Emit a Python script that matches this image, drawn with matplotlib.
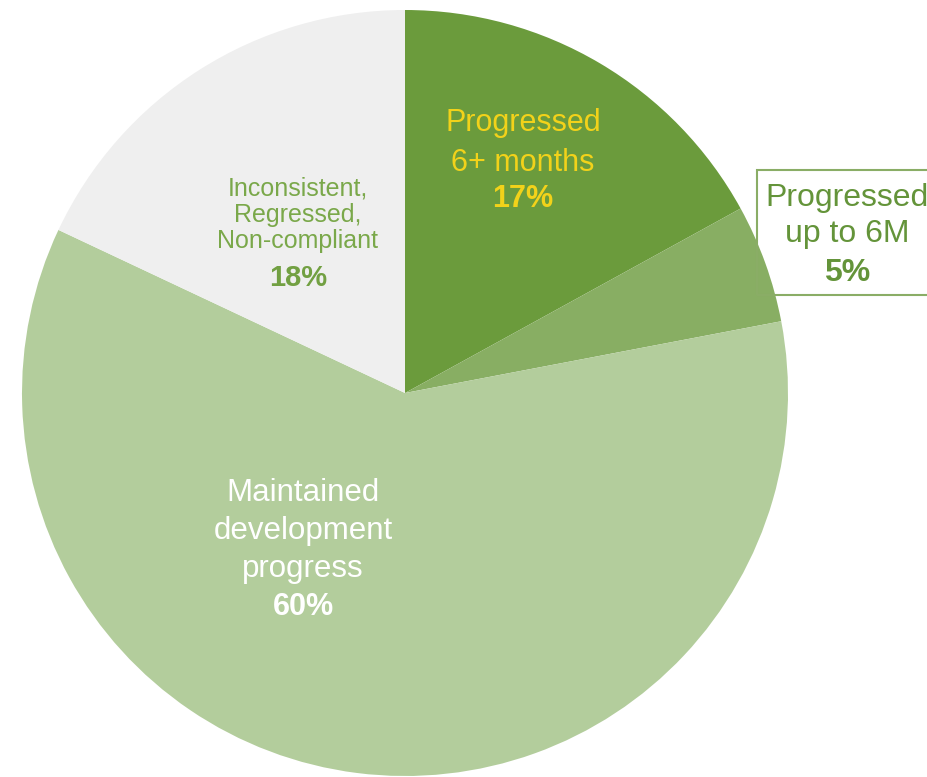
import matplotlib.pyplot as plt
from matplotlib.patches import Rectangle

labels = ['Progressed\n6+ months', 'Progressed\nup to 6M',
          'Maintained\ndevelopment\nprogress', 'Inconsistent,\nRegressed,\nNon-compliant']
shares = [17, 5, 60, 18]
colors = ['#6b9b3c', '#88ae63', '#b3cd9c', '#efefef']

plt.rcParams['font.family'] = ['Liberation Sans', 'DejaVu Sans']

fig = plt.figure(figsize=(9.27, 7.77), dpi=100)
ax = fig.add_axes([0, 0, 1, 1])

ax.pie(shares, colors=colors, startangle=90, counterclock=False,
       center=(405, 384), radius=383, frame=True,
       wedgeprops={'linewidth': 0})
ax.set_xlim(0, 927)
ax.set_ylim(0, 777)
ax.axis('off')

# labels (pixel layout, y measured from the top)
def put(x, y, s, size, color, weight='normal', ls=1.2):
    return ax.text(x, 777 - y, s, ha='center', va='center', fontsize=size,
                   color=color, fontweight=weight, linespacing=ls)

yellow = '#f2d21a'
put(523, 143, labels[0], 22, yellow, ls=1.45)
put(523, 199, f'{shares[0]}%', 22, yellow, weight='bold')

# boxed call-out, running off the right edge
ax.add_patch(Rectangle((757, 777 - 295), 200, 125, fc='none', ec='#8aad66',
                       lw=1.5, clip_on=True))
put(847, 216, labels[1], 23, '#64943a', ls=1.3)
put(847, 273, f'{shares[1]}%', 23, '#64943a', weight='bold')

put(298, 215, labels[3], 18, '#7aa84a', ls=1.12)
put(298, 278, f'{shares[3]}%', 21, '#72a042', weight='bold')

put(303, 531, labels[2], 22.5, 'white', ls=1.33)
put(303, 607, f'{shares[2]}%', 22, 'white', weight='bold')

fig.savefig('out.png', dpi=100)
